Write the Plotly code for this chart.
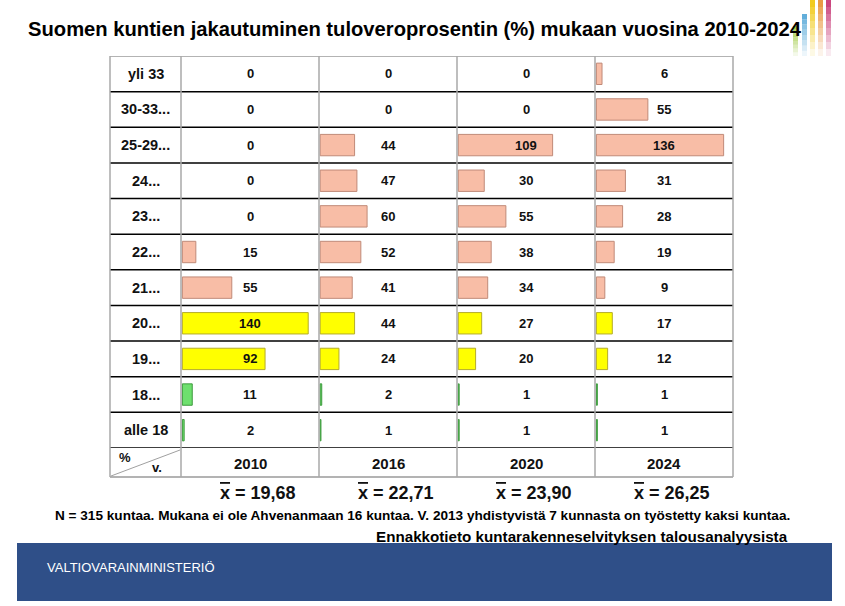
import plotly.graph_objects as go

# ---------------- data ----------------
categories = ["yli 33", "30-33...", "25-29...", "24...", "23...", "22...", "21...",
              "20...", "19...", "18...", "alle 18"]
years = ["2010", "2016", "2020", "2024"]
v2010 = [0, 0, 0, 0, 0, 15, 55, 140, 92, 11, 2]
v2016 = [0, 0, 44, 47, 60, 52, 41, 44, 24, 2, 1]
v2020 = [0, 0, 109, 30, 55, 38, 34, 27, 20, 1, 1]
v2024 = [6, 55, 136, 31, 28, 19, 9, 17, 12, 1, 1]
means = ["19,68", "22,71", "23,90", "26,25"]
series = [v2010, v2016, v2020, v2024]
title = "Suomen kuntien jakautuminen tuloveroprosentin (%) mukaan vuosina 2010-2024"
note = "N = 315 kuntaa. Mukana ei ole Ahvenanmaan 16 kuntaa. V. 2013 yhdistyvistä 7 kunnasta on työstetty kaksi kuntaa."
source = "Ennakkotieto kuntarakenneselvityksen talousanalyysista"
org = "VALTIOVARAINMINISTERIÖ"

# ---------------- styles ----------------
W, H = 845, 606
def px(x): return x / W
def py(y): return 1 - y / H

FONT = "Liberation Sans, Arial, sans-serif"
pink, pink_l = "#F8BDA6", "#C08A78"
yellow, yellow_l = "#FFFF00", "#B5AC2A"
green, green_l = "#6EE06E", "#3C9A3C"
fill = [pink] * 7 + [yellow] * 2 + [green] * 2
line = [pink_l] * 7 + [yellow_l] * 2 + [green_l] * 2

table_left, label_right, table_right = 110, 181, 733
col_edges = [181, 319, 457, 595, 733]
row_top, rows_bottom, table_bottom = 56, 448, 477
ranges = [152, 175, 158, 146]

def ann(x, y, text, size, color="#111", xanchor="center", xref="paper", yref="paper"):
    return dict(x=x, y=y, xref=xref, yref=yref, text=text, showarrow=False,
                xanchor=xanchor, yanchor="middle",
                font=dict(family=FONT, size=size, color=color))

fig = go.Figure()
layout_axes = {}
annotations = []
for i, (yr, vals) in enumerate(zip(years, series)):
    n = "" if i == 0 else str(i + 1)
    fig.add_trace(go.Bar(
        x=vals, y=categories, orientation="h", xaxis="x" + n, yaxis="y",
        marker=dict(color=fill,
                    line=dict(color=line, width=[1 if v > 0 else 0 for v in vals])),
        width=0.6, hoverinfo="x+y", showlegend=False))
    layout_axes["xaxis" + n] = dict(
        domain=[px(col_edges[i]), px(col_edges[i + 1])], anchor="y",
        range=[-1.5, ranges[i]], visible=False, fixedrange=True)
    for c, v in zip(categories, vals):
        annotations.append(ann(0.5, c, f"<b>{v}</b>", 13,
                               xref="x" + n + " domain", yref="y"))
    cx = (col_edges[i] + col_edges[i + 1]) / 2
    annotations.append(ann(px(cx), py(463), f"<b>{yr}</b>", 15))
    annotations.append(ann(px(cx + 8), py(493),
                           f"<b><span style='text-decoration:overline'>x</span> = {means[i]}</b>", 18))

for c in categories:
    annotations.append(ann(px((table_left + label_right) / 2), c, f"<b>{c}</b>", 14.5, yref="y"))

annotations += [
    ann(px(26), py(29), f"<b>{title}</b>", 20.2, color="#000", xanchor="left"),
    ann(px(125), py(457), "<b>%</b>", 13),
    ann(px(157), py(467), "<b>v.</b>", 13),
    ann(px(422), py(515), f"<b>{note}</b>", 13.6, color="#000"),
    ann(px(790), py(536), f"<b>{source}</b>", 15.2, color="#000", xanchor="right"),
    ann(px(45), py(567), org, 13, color="#fff", xanchor="left"),
]

shapes = []
# horizontal lines
for k in range(len(categories) + 1):
    yv = k - 0.5
    shapes.append(dict(type="line", xref="paper", yref="y",
                       x0=px(table_left), x1=px(table_right), y0=yv, y1=yv,
                       line=dict(color="#9a9a9a" if k == 0 else "#000", width=1.5)))
shapes.append(dict(type="line", xref="paper", yref="paper",
                   x0=px(table_left), x1=px(table_right), y0=py(table_bottom), y1=py(table_bottom),
                   line=dict(color="#9a9a9a", width=1.5)))
# vertical lines
for xv in [table_left, label_right] + col_edges[1:]:
    shapes.append(dict(type="line", xref="paper", yref="paper",
                       x0=px(xv), x1=px(xv), y0=py(row_top), y1=py(table_bottom),
                       line=dict(color="#a8a8a8", width=1.5)))
# diagonal in corner cell
shapes.append(dict(type="line", xref="paper", yref="paper",
                   x0=px(111), x1=px(180), y0=py(476), y1=py(450),
                   line=dict(color="#a0a0a0", width=1)))
# footer band
shapes.append(dict(type="rect", xref="paper", yref="paper", layer="below",
                   x0=px(17), x1=px(832), y0=py(601), y1=py(543),
                   fillcolor="#2F4F88", line=dict(width=0)))
# decorative logo bars (fading)
logo = [(793, 26, "#9CC83C"), (802, 14, "#5AAAD8"), (810, 0, "#F0C814"),
        (818, 0, "#E8963C"), (826, 0, "#C83C78")]
for x0, top, col in logo:
    steps = 8
    for s in range(steps):
        y0 = top + s * (56 - top) / steps
        y1 = top + (s + 1) * (56 - top) / steps
        shapes.append(dict(type="rect", xref="paper", yref="paper",
                           x0=px(x0), x1=px(x0 + 5), y0=py(y1), y1=py(y0),
                           fillcolor=col, opacity=max(0.06, 0.95 - s * 0.12),
                           line=dict(width=0)))

fig.update_layout(
    width=W, height=H, margin=dict(l=0, r=0, t=0, b=0),
    paper_bgcolor="white", plot_bgcolor="rgba(0,0,0,0)",
    yaxis=dict(domain=[py(rows_bottom), py(row_top)], type="category",
               categoryorder="array", categoryarray=categories,
               range=[len(categories) - 0.5, -0.5], visible=False, fixedrange=True),
    bargap=0.4, annotations=annotations, shapes=shapes,
    font=dict(family=FONT), showlegend=False,
    **layout_axes,
)
fig.write_html("out.html", config={"displayModeBar": False},
               post_script="document.body.style.margin='0';")
